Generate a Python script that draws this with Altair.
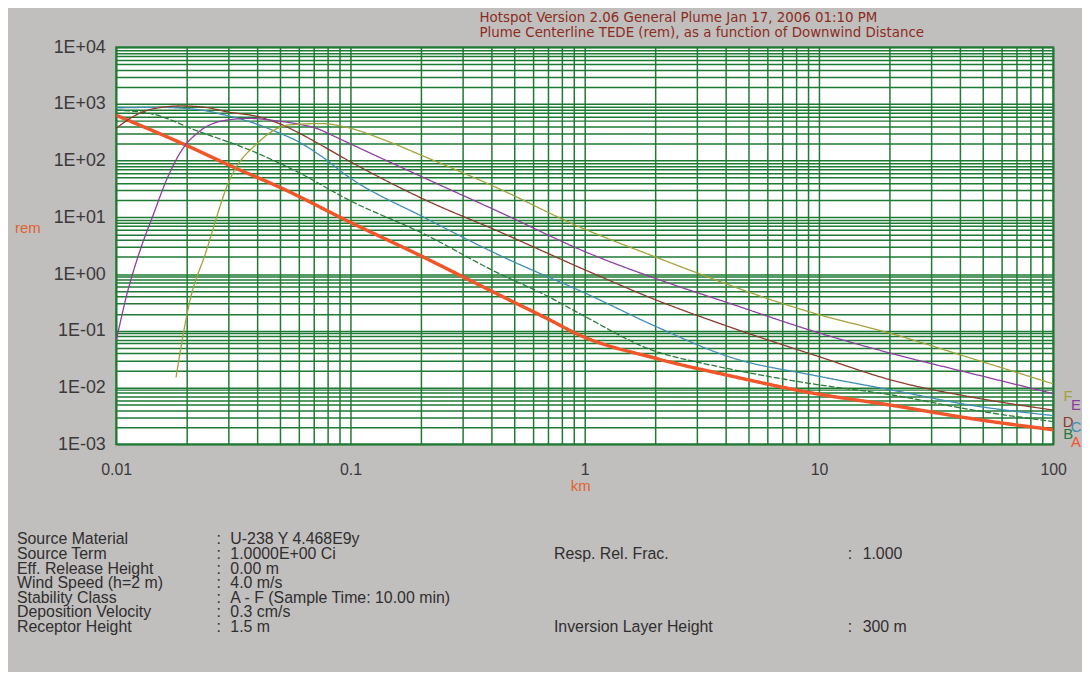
import altair as alt
import pandas as pd

# ---------------- data ----------------
series_names = ["A", "B", "C", "D", "E", "F"]

A_x = [0.01, 0.0198, 0.0314, 0.051, 0.098, 0.208, 0.308, 0.47, 0.7, 0.933, 2.05, 4.2, 8.9, 20.8, 45.5, 100]
A_y = [630, 188, 78, 32.5, 8.5, 1.93, 0.86, 0.36, 0.16, 0.087, 0.032, 0.016, 0.0083, 0.0048, 0.0028, 0.0018]

B_x = [0.01, 0.0139, 0.0226, 0.037, 0.06, 0.098, 0.208, 0.41, 0.70, 0.933, 2.05, 3.03, 4.2, 8.9, 20.8, 45.5, 100]
B_y = [775, 680, 325, 155, 62, 20.4, 5.0, 1.13, 0.40, 0.21, 0.042, 0.028, 0.021, 0.012, 0.0073, 0.004, 0.0025]

C_x = [0.01, 0.015, 0.0192, 0.024, 0.0294, 0.038, 0.048, 0.06, 0.075, 0.098, 0.208, 0.427, 1.03, 2.05, 4.2, 9.8, 20.8, 45.5, 100]
C_y = [850, 870, 840, 760, 630, 470, 325, 215, 120, 52, 9.8, 2.2, 0.44, 0.115, 0.034, 0.016, 0.0089, 0.0048, 0.0032]

D_x = [0.01, 0.0115, 0.0137, 0.016, 0.019, 0.024, 0.03, 0.04, 0.051, 0.06, 0.07, 0.098, 0.208, 0.427, 1.03, 2.05, 4.2, 9.8, 20.8, 45.5, 100]
D_y = [370, 560, 780, 880, 920, 870, 720, 600, 430, 310, 220, 100, 20.4, 5.7, 1.13, 0.34, 0.115, 0.036, 0.0132, 0.0067, 0.004]

E_x = [0.01, 0.0112, 0.0126, 0.0145, 0.0163, 0.019, 0.0226, 0.0294, 0.037, 0.047, 0.06, 0.071, 0.085, 0.098, 0.208, 0.427, 1.03, 2.05, 4.2, 9.8, 20.8, 45.5, 100]
E_y = [0.067, 0.5, 2.5, 12, 43, 150, 325, 515, 555, 510, 440, 375, 270, 205, 49, 12.7, 2.37, 0.81, 0.30, 0.094, 0.039, 0.0174, 0.0078]

F_x = [0.018, 0.0205, 0.0242, 0.0303, 0.0407, 0.0546, 0.075, 0.098, 0.14, 0.208, 0.427, 0.933, 2.05, 3.13, 6.4, 9.3, 20.8, 45.5, 100]
F_y = [0.015, 0.3, 2.5, 43, 215, 425, 450, 380, 230, 117, 32.5, 7.0, 1.93, 0.99, 0.34, 0.21, 0.087, 0.032, 0.0116]

title_lines = [
    "Hotspot Version 2.06 General Plume  Jan 17, 2006 01:10 PM",
    "Plume Centerline TEDE (rem), as a function of Downwind Distance",
]
x_title = "km"
y_title = "rem"

info_labels = ["Source Material", "Source Term", "Eff. Release Height", "Wind Speed (h=2 m)",
               "Stability Class", "Deposition Velocity", "Receptor Height"]
info_values = ["U-238   Y 4.468E9y", "1.0000E+00 Ci", "0.00 m", "4.0 m/s",
               "A - F (Sample Time: 10.00 min)", "0.3 cm/s", "1.5 m"]
extra_labels = ["Resp. Rel. Frac.", "Inversion Layer Height"]
extra_values = ["1.000", "300 m"]
extra_rows = [1, 6]

x_ticks = {0.01: "0.01", 0.1: "0.1", 1.0: "1", 10.0: "10", 100.0: "100"}
y_ticks = {1e-3: "1E-03", 1e-2: "1E-02", 1e-1: "1E-01", 1.0: "1E+00",
           10.0: "1E+01", 100.0: "1E+02", 1000.0: "1E+03", 10000.0: "1E+04"}

# ---------------- styling ----------------
GREEN = "#1f7a33"
BG = "#c1bebe"
colors = {"A": "#f0562a", "B": "#2a7a3a", "C": "#3f8db5", "D": "#8c3a2c", "E": "#8e3ea0", "F": "#a3a23a"}
widths = {"A": 3.5, "B": 1.3, "C": 1.3, "D": 1.3, "E": 1.3, "F": 1.3}
dashes = {"A": [1, 0], "B": [6, 2], "C": [1, 0], "D": [1, 0], "E": [1, 0], "F": [1, 0]}

PAD_L, PAD_T = 109, 37
W, H = 944, 400
TOTAL_W, TOTAL_H = 1082, 664

LABEL_FONT = "Liberation Sans, Arial, sans-serif"
NARROW = "Liberation Sans Narrow, Arial Narrow, DejaVu Sans Condensed, sans-serif"

# ---------------- build data frame ----------------
xs = {"A": A_x, "B": B_x, "C": C_x, "D": D_x, "E": E_x, "F": F_x}
ys = {"A": A_y, "B": B_y, "C": C_y, "D": D_y, "E": E_y, "F": F_y}
rows = []
for s in series_names:
    for xv, yv in zip(xs[s], ys[s]):
        rows.append({"series": s, "x": xv, "y": yv})
df = pd.DataFrame(rows)
ends = pd.DataFrame([{"series": s, "x": xs[s][-1], "y": ys[s][-1]} for s in series_names])


def grid_values(e0, e1):
    vals = []
    for e in range(e0, e1):
        for m in range(1, 10):
            vals.append(float(f"{m}e{e}"))
    vals.append(float(f"1e{e1}"))
    return vals


def label_expr(mapping):
    parts = [f"datum.value == {v!r} ? '{l}'" for v, l in mapping.items()]
    return " : ".join(parts) + " : ''"


x_enc = alt.X("x:Q",
              scale=alt.Scale(type="log", domain=[0.01, 100], nice=False),
              axis=alt.Axis(values=grid_values(-2, 2), labelExpr=label_expr(x_ticks),
                            grid=True, gridColor=GREEN, gridWidth=1.5, gridOpacity=1,
                            ticks=False, domain=False, title=None,
                            labelFont=LABEL_FONT, labelFontSize=16, labelColor="#3a3a3a",
                            labelPadding=18, labelFlush=False, labelOverlap=False, labelBound=False))
y_enc = alt.Y("y:Q",
              scale=alt.Scale(type="log", domain=[1e-3, 1e4], nice=False),
              axis=alt.Axis(values=grid_values(-3, 4), labelExpr=label_expr(y_ticks),
                            grid=True, gridColor=GREEN, gridWidth=1.5, gridOpacity=1,
                            ticks=False, domain=False, title=None,
                            labelFont=LABEL_FONT, labelFontSize=18, labelColor="#3a3a3a",
                            labelPadding=11, labelFlush=False, labelOverlap=False, labelBound=False))

layers = []
for s in series_names:
    layers.append(
        alt.Chart(df).transform_filter(alt.datum.series == s)
        .mark_line(color=colors[s], strokeWidth=widths[s], strokeDash=dashes[s],
                   interpolate="monotone", clip=True)
        .encode(x=x_enc, y=y_enc)
    )

# curve letters at the right-hand ends
for group, dxv in ((["F", "D", "B"], 15), (["E", "C", "A"], 23)):
    for s in group:
        layers.append(
            alt.Chart(ends).transform_filter(alt.datum.series == s)
            .mark_text(color=colors[s], font=LABEL_FONT, fontSize=15, dx=dxv, dy=12,
                       align="center", baseline="middle")
            .encode(x=alt.X("x:Q"), y=alt.Y("y:Q"), text="series:N")
        )


def text_layer(text, x, y, color="#2f2f2f", size=16, align="left", baseline="middle",
               font=LABEL_FONT, line_height=None):
    kw = dict(color=color, fontSize=size, align=align, baseline=baseline, font=font)
    if line_height is not None:
        kw["lineBreak"] = "\n"
        kw["lineHeight"] = line_height
    return (alt.Chart(pd.DataFrame({"t": [text]}))
            .mark_text(**kw)
            .encode(x=alt.value(x), y=alt.value(y), text="t:N"))


# title (two lines, left aligned)
layers.append(text_layer("\n".join(title_lines), 366, -37, color="#8c2c1c", size=15,
                         baseline="top", font=NARROW, line_height=15))
# axis titles
layers.append(text_layer(y_title, -89, 182, color="#e0622e", size=15, align="center"))
layers.append(text_layer(x_title, 468, 442, color="#e0622e", size=15, align="center"))

# information block
LH = 14.7
ROW0 = 496
layers.append(text_layer("\n".join(info_labels), -100, ROW0 - 8, baseline="top", line_height=LH))
layers.append(text_layer("\n".join([":"] * len(info_labels)), 101, ROW0 - 8, baseline="top", line_height=LH))
layers.append(text_layer("\n".join(info_values), 115, ROW0 - 8, baseline="top", line_height=LH))
for lab, val, r in zip(extra_labels, extra_values, extra_rows):
    yy = ROW0 + r * LH
    layers.append(text_layer(lab, 441, yy))
    layers.append(text_layer(":", 737, yy))
    layers.append(text_layer(val, 752, yy))

chart = (
    alt.layer(*layers)
    .properties(
        width=W, height=H,
        background=BG,
        autosize=alt.AutoSizeParams(type="none"),
        padding={"left": PAD_L, "top": PAD_T,
                 "right": TOTAL_W - PAD_L - W, "bottom": TOTAL_H - PAD_T - H},
    )
    .configure_view(fill="white", stroke=GREEN, strokeWidth=2)
)

chart.save("out.html", embed_options={"renderer": "svg", "actions": False})
